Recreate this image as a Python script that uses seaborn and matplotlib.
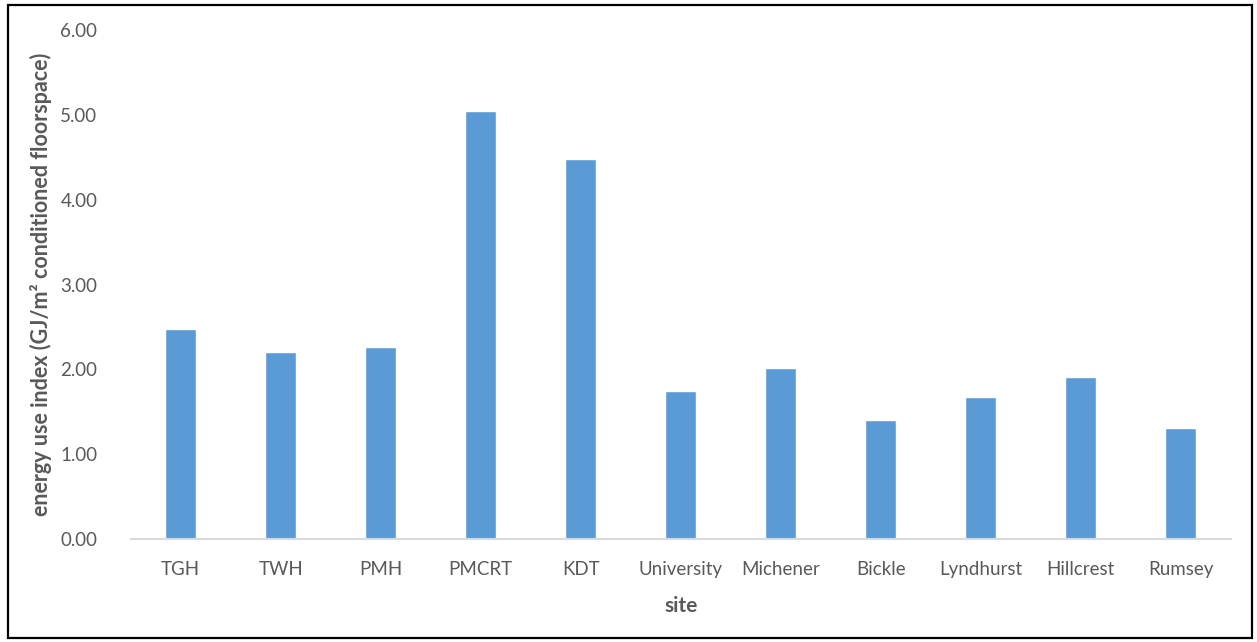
import matplotlib
matplotlib.use('Agg')
import matplotlib.pyplot as plt
import seaborn as sns
import pandas as pd
from matplotlib.patches import Rectangle

# values
sites = ["TGH", "TWH", "PMH", "PMCRT", "KDT", "University", "Michener",
         "Bickle", "Lyndhurst", "Hillcrest", "Rumsey"]
eui = [2.47, 2.20, 2.26, 5.05, 4.48, 1.74, 2.02, 1.40, 1.67, 1.91, 1.31]
y_ticks = [0, 1, 2, 3, 4, 5, 6]

BAR_COLOR = "#5B9BD5"
TEXT_COLOR = "#595959"

df = pd.DataFrame({"site": sites, "eui": eui})

sns.set_theme(style="white")
plt.rcParams["font.family"] = ["Lato", "DejaVu Sans"]

fig = plt.figure(figsize=(12.57, 6.42), dpi=100)
ax = fig.add_axes([0.104, 0.1604, 0.875, 0.7929])

sns.barplot(data=df, x="site", y="eui", color=BAR_COLOR, width=0.31,
            saturation=1, ax=ax)

ax.set_ylim(0, 6)
ax.set_xlim(-0.5, len(sites) - 0.5)
ax.set_yticks(y_ticks)
ax.set_yticklabels([f"{v:.2f}" for v in y_ticks])

for side in ["top", "right", "left"]:
    ax.spines[side].set_visible(False)
ax.spines["bottom"].set_color("#D9D9D9")
ax.spines["bottom"].set_linewidth(1.5)
ax.tick_params(axis="both", length=0, labelsize=13.5, colors=TEXT_COLOR)
ax.tick_params(axis="x", pad=16)
ax.tick_params(axis="y", pad=24)

ax.set_xlabel("site", fontsize=15, fontweight="bold", color=TEXT_COLOR, labelpad=13)
ax.set_ylabel("energy use index (GJ/m² conditioned floorspace)", fontsize=15.5,
              fontweight="bold", color=TEXT_COLOR, labelpad=6)

# outer frame of the chart area
fig.patches.append(Rectangle((0.0064, 0.0065), 0.9896, 0.9857, transform=fig.transFigure,
                             fill=False, edgecolor="black", linewidth=1.6))

fig.savefig("out.png", dpi=100)
